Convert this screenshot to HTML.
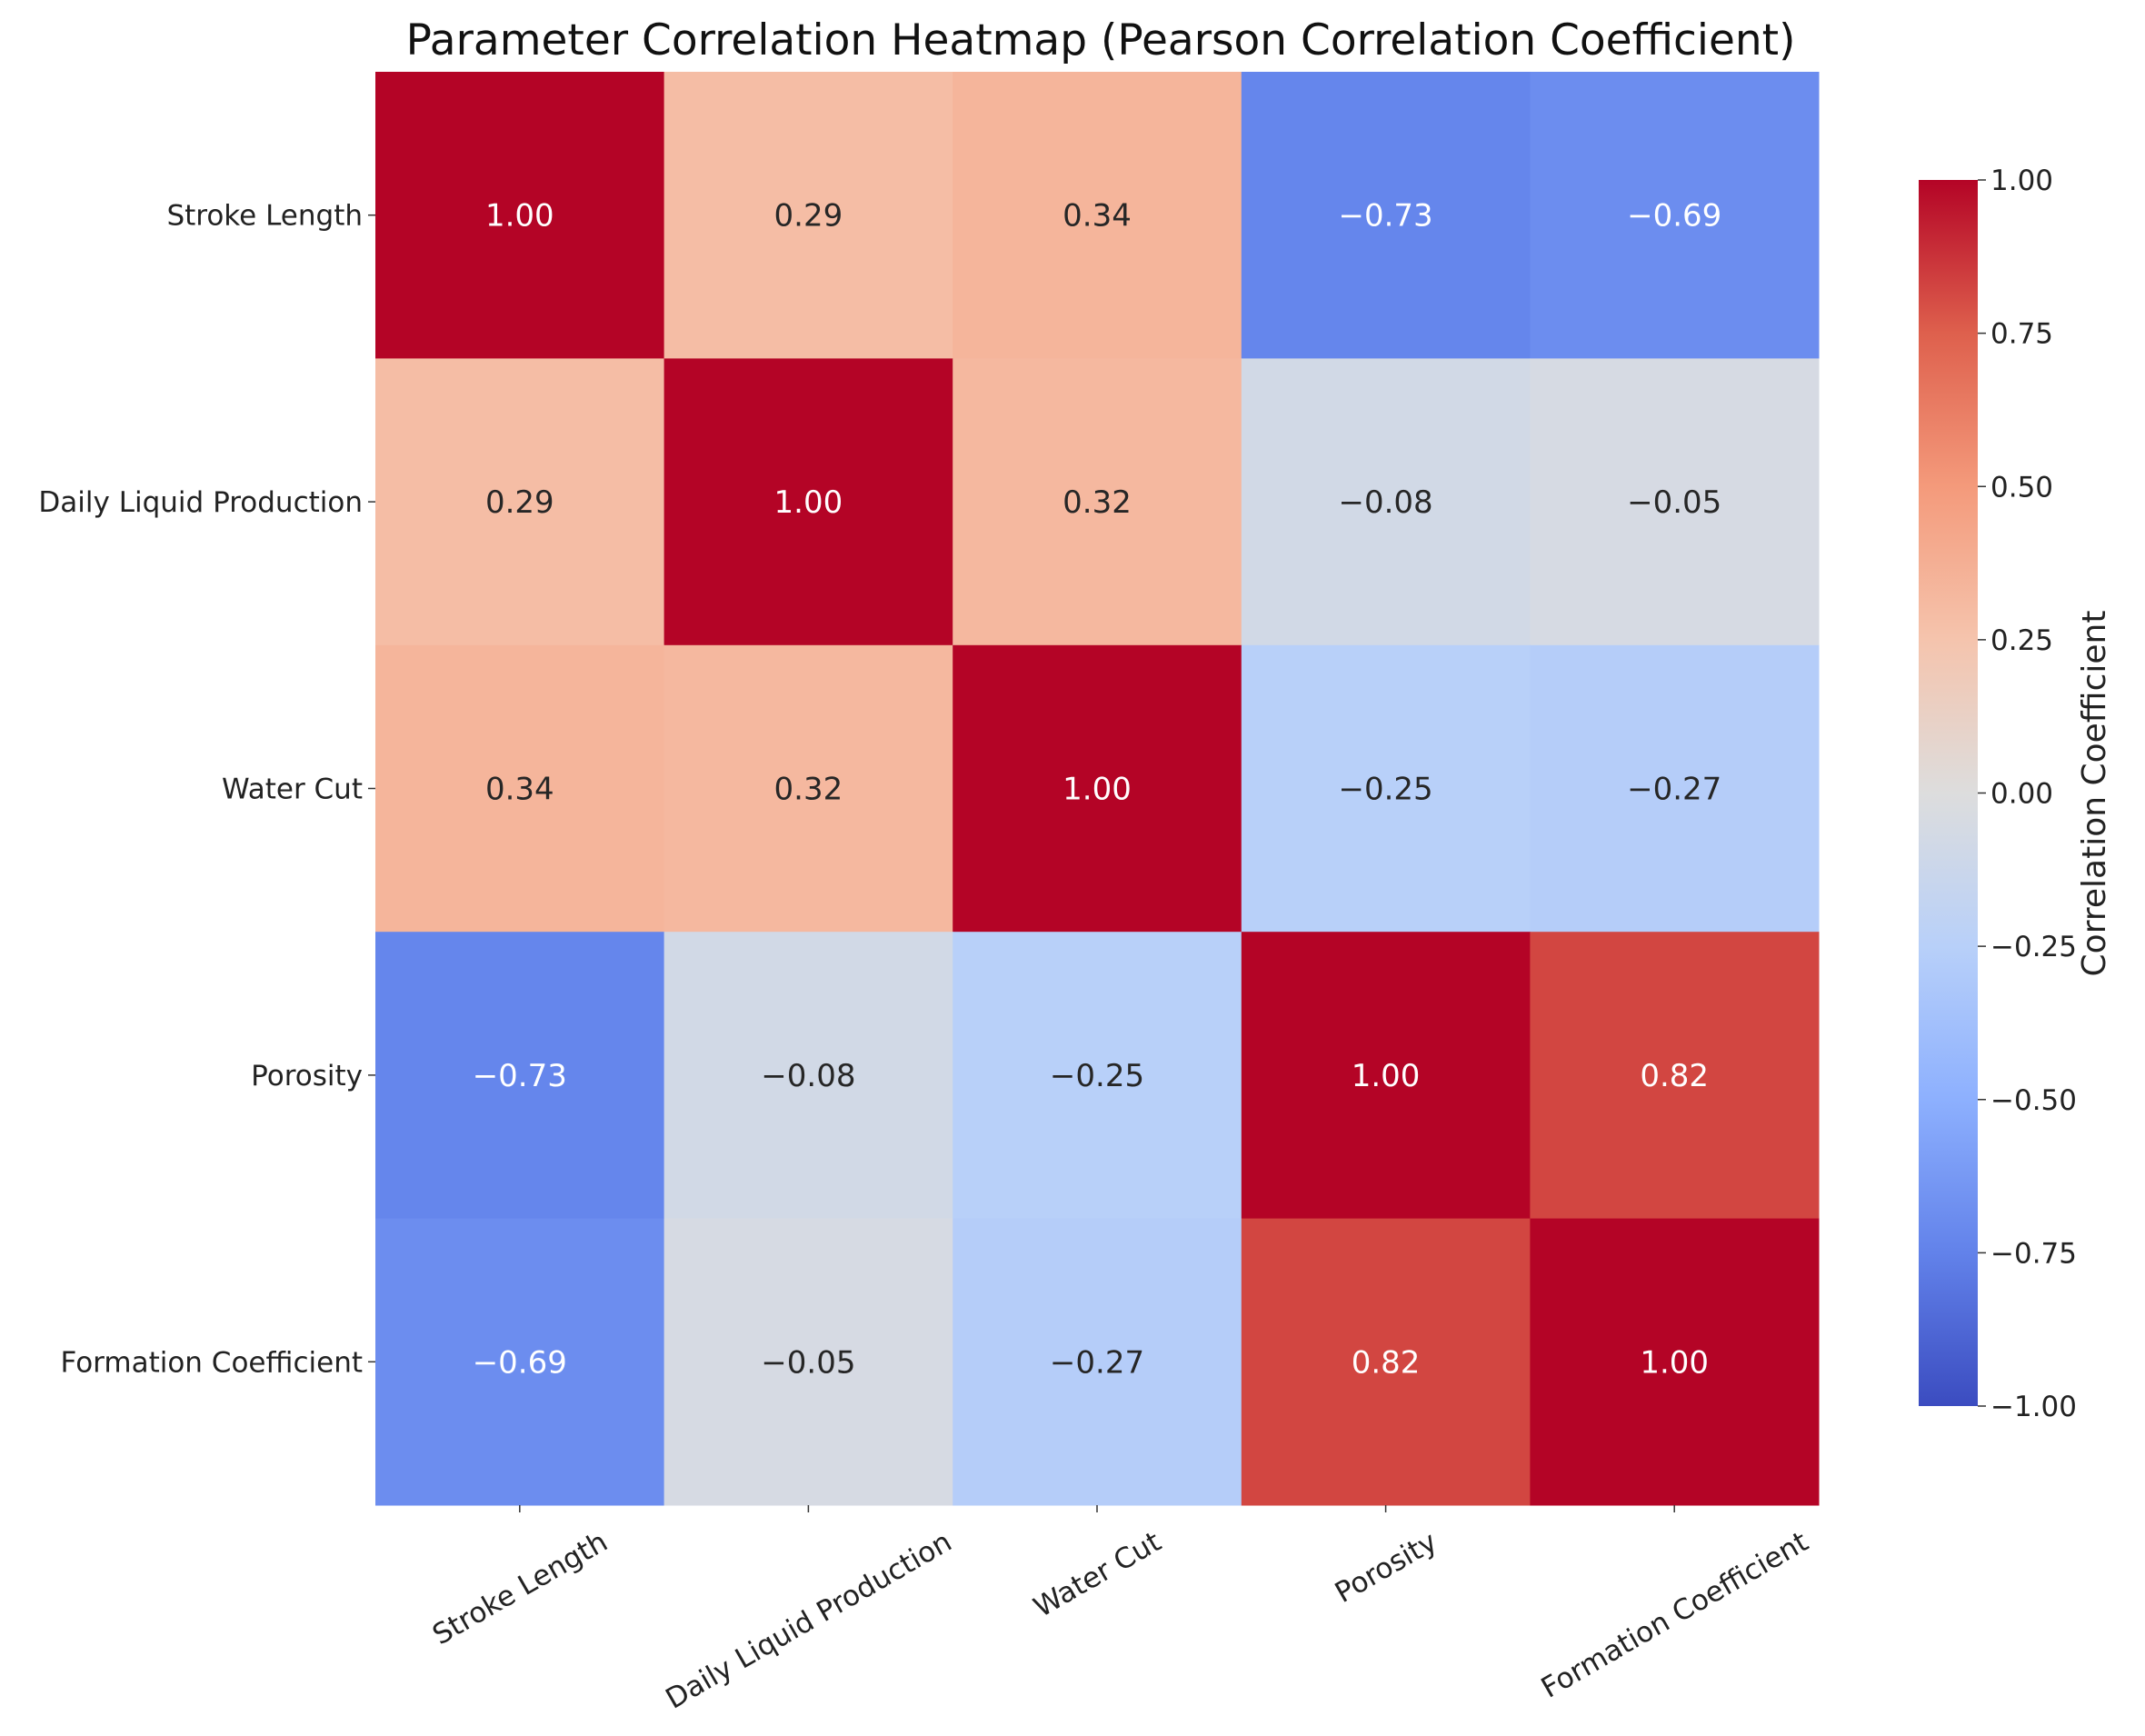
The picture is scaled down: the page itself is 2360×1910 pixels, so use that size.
<!DOCTYPE html>
<html><head><meta charset="utf-8">
<style>
html,body{margin:0;padding:0;background:#fff;}
svg{display:block;font-family:"DejaVu Sans","Liberation Sans",sans-serif;}
</style></head>
<body>
<svg id="chart" width="2360" height="1910" viewBox="0 0 2360 1910" xmlns="http://www.w3.org/2000/svg">
<defs>
<linearGradient id="cbgrad" x1="0" y1="1" x2="0" y2="0">
<stop offset="0" stop-color="#3b4cc0"/>
<stop offset="0.125" stop-color="#6282ea"/>
<stop offset="0.25" stop-color="#8db0fe"/>
<stop offset="0.375" stop-color="#b8d0f9"/>
<stop offset="0.5" stop-color="#dddddd"/>
<stop offset="0.625" stop-color="#f5c4ad"/>
<stop offset="0.75" stop-color="#f49a7b"/>
<stop offset="0.875" stop-color="#de604d"/>
<stop offset="1" stop-color="#b40426"/>
</linearGradient>
</defs>
<text x="1211" y="60" font-size="47" text-anchor="middle" fill="#111">Parameter Correlation Heatmap (Pearson Correlation Coefficient)</text>
<g id="cells"></g>
<g id="ylabels"></g>
<g id="xlabels"></g>
<rect x="2111" y="198" width="65" height="1349" fill="url(#cbgrad)"/>
<g id="cbticks"></g>
<text transform="translate(2316,873) rotate(-90)" font-size="36" text-anchor="middle" fill="#222">Correlation Coefficient</text>
</svg>
<script>
const labels = ["Stroke Length","Daily Liquid Production","Water Cut","Porosity","Formation Coefficient"];
const row0 = [1.00, 0.29, 0.34, -0.73, -0.69];
const row1 = [0.29, 1.00, 0.32, -0.08, -0.05];
const row2 = [0.34, 0.32, 1.00, -0.25, -0.27];
const row3 = [-0.73, -0.08, -0.25, 1.00, 0.82];
const row4 = [-0.69, -0.05, -0.27, 0.82, 1.00];
const matrix = [row0, row1, row2, row3, row4];
const cbTicks = [1.00, 0.75, 0.50, 0.25, 0.00, -0.25, -0.50, -0.75, -1.00];

const NS = "http://www.w3.org/2000/svg";
const X0 = 413, X1 = 2001, Y0 = 79, Y1 = 1656;
const CB_TOP = 198, CB_BOT = 1547, CB_X = 2176;
const cw = (X1 - X0) / labels.length, ch = (Y1 - Y0) / labels.length;
function xPos(i){ return X0 + i * cw; }
function yPos(i){ return Y0 + i * ch; }
function cbY(v){ return CB_BOT - (v + 1) / 2 * (CB_BOT - CB_TOP); }

const stops = [[59,76,192],[98,130,234],[141,176,254],[184,208,249],[221,221,221],[245,196,173],[244,154,123],[222,96,76],[180,4,38]];
function color(v){
  let t = (v + 1) / 2; t = Math.max(0, Math.min(1, t));
  const p = t * 8, i = Math.min(7, Math.floor(p)), f = p - i;
  const a = stops[i], b = stops[i + 1];
  const c = a.map((x, k) => Math.round(x + (b[k] - x) * f));
  return [c, "rgb(" + c.join(",") + ")"];
}
function fmt(v){ return (v < 0 ? "\u2212" : "") + Math.abs(v).toFixed(2); }
function mk(tag, attrs, parent){
  const e = document.createElementNS(NS, tag);
  for (const k in attrs) e.setAttribute(k, attrs[k]);
  parent.appendChild(e); return e;
}

const cells = document.getElementById("cells");
matrix.forEach((row, r) => {
  row.forEach((v, c) => {
    const [rgb, col] = color(v);
    const rect = mk("rect", {x: xPos(c), y: yPos(r), width: cw + 0.5, height: ch + 0.5, fill: col}, cells);
    
    
    const white = Math.abs(v) >= 0.5;
    const t = mk("text", {x: xPos(c) + cw / 2, y: yPos(r) + ch / 2 + 12, "font-size": 34, "text-anchor": "middle", fill: white ? "#ffffff" : "#262626"}, cells);
    t.textContent = fmt(v);
    
    
  });
});

const yl = document.getElementById("ylabels");
labels.forEach((lab, i) => {
  const cy = yPos(i) + ch / 2;
  const tk = mk("line", {x1: X0 - 8, x2: X0, y1: cy, y2: cy, stroke: "#333", "stroke-width": 1.5}, yl);
  
  
  const t = mk("text", {x: X0 - 14, y: cy + 11, "font-size": 31, "text-anchor": "end", fill: "#222"}, yl);
  t.textContent = lab;
  
  
});

const xl = document.getElementById("xlabels");
labels.forEach((lab, i) => {
  const cx = xPos(i) + cw / 2;
  const tk = mk("line", {x1: cx, x2: cx, y1: Y1, y2: Y1 + 8, stroke: "#333", "stroke-width": 1.5}, xl);
  
  
  const t = mk("text", {"font-size": 31, "text-anchor": "middle", fill: "#222"}, xl);
  t.textContent = lab;
  
  
  const w = t.getComputedTextLength ? t.getComputedTextLength() : lab.length * 16;
  const cy = Y1 + 22 + w / 4 + 15;
  t.setAttribute("transform", "translate(" + cx + "," + cy + ") rotate(-30) translate(0,11)");
});

const cb = document.getElementById("cbticks");
cbTicks.forEach(v => {
  const y = cbY(v);
  const tk = mk("line", {x1: CB_X, x2: CB_X + 9, y1: y, y2: y, stroke: "#333", "stroke-width": 1.5}, cb);
  
  
  const t = mk("text", {x: CB_X + 14, y: y + 11, "font-size": 31, fill: "#222"}, cb);
  t.textContent = fmt(v);
  
  
});
</script>
</body></html>
